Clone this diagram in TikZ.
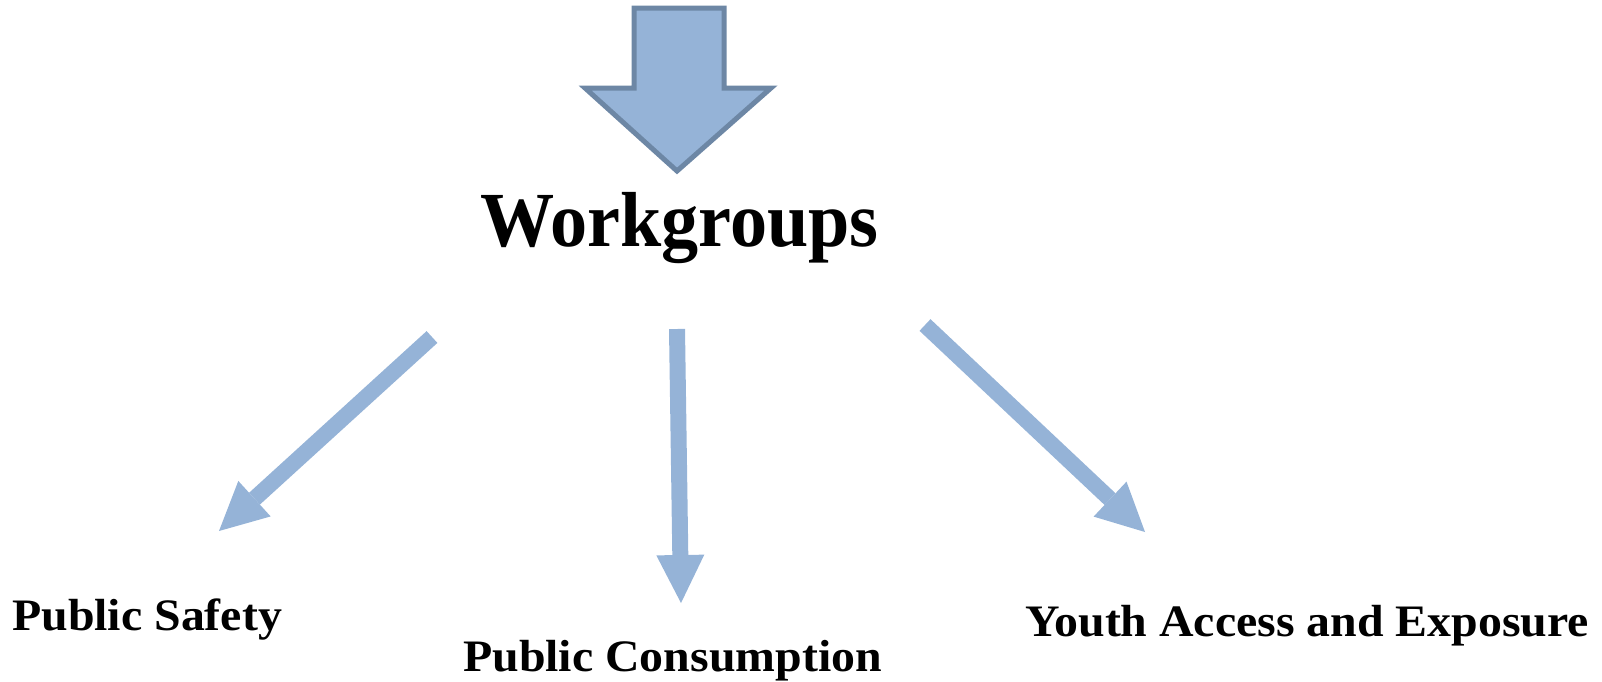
\documentclass[tikz,border=0pt]{standalone}
\usepackage{fontspec}
\setmainfont{Liberation Serif}
\usetikzlibrary{arrows.meta}
\definecolor{arrfill}{HTML}{95B3D7}
\definecolor{arrline}{HTML}{6D87A5}
\newcommand{\lblstretch}[1]{\scalebox{1.063}[1]{#1}}
\newcommand{\titlesqueeze}[1]{\scalebox{0.951}[1]{#1}}
\begin{document}
\begin{tikzpicture}[x=1pt,y=-1pt,
  lbl/.style={anchor=base west,inner sep=0pt,font=\fontsize{45}{50}\selectfont\bfseries},
  title/.style={anchor=base west,inner sep=0pt,font=\fontsize{78}{86}\selectfont\bfseries},
  thinarrow/.style={draw=arrfill,line width=16pt,
    -{Triangle[length=48pt,width=48pt,line width=0pt]}}]
\useasboundingbox (0,0) rectangle (1602,681);
% big block arrow
\filldraw[fill=arrfill,draw=arrline,line width=5pt,line join=miter]
  (634,8) -- (724,8) -- (724,88) -- (771,88) -- (677,171) -- (585,88) -- (634,88) -- cycle;
\node[title] (wg) at (480,246) {\titlesqueeze{Workgroups}};
\node[lbl] (ps) at (12,630) {\lblstretch{Public Safety}};
\node[lbl] (pc) at (463,671) {\lblstretch{Public Consumption}};
\node[lbl] (ya) at (1025,636) {\lblstretch{Youth Access and Exposure}};
\coordinate (l0) at (432,337);
\coordinate (l1) at (219,531);
\coordinate (m0) at (677,329);
\coordinate (m1) at (681,603);
\coordinate (r0) at (925,325);
\coordinate (r1) at (1145,532);
\draw[thinarrow] (l0) -- (l1);
\draw[thinarrow] (m0) -- (m1);
\draw[thinarrow] (r0) -- (r1);
\end{tikzpicture}
\end{document}
